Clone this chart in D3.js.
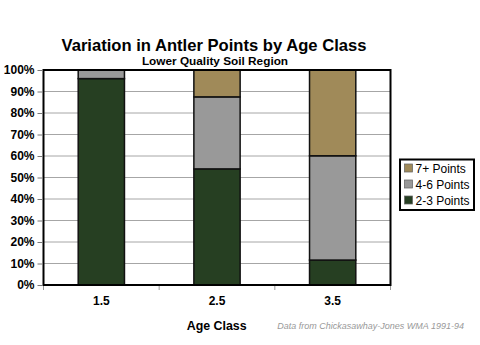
<!DOCTYPE html>
<html>
<head>
<meta charset="utf-8">
<script src="https://cdn.jsdelivr.net/npm/d3@7"></script>
<style>
  html, body { margin: 0; padding: 0; background: #fff; }
  svg { display: block; font-family: "Liberation Sans", Arial, sans-serif; }
</style>
</head>
<body>
<svg id="chart" width="480" height="345"></svg>
<script>
// Age classes and the share of bucks in each antler-point group (percent)
const ageClasses = ["1.5", "2.5", "3.5"];
const seriesNames = ["2-3 Points", "4-6 Points", "7+ Points"];
const points23 = [96, 54, 11.6];
const points46 = [4, 33.5, 48.5];
const points7plus = [0, 12.5, 39.9];
const yTicks = [0, 10, 20, 30, 40, 50, 60, 70, 80, 90, 100];
const colors = ["#263f22", "#999999", "#a08a59"];

const svg = d3.select("#chart");
const m = { left: 43.5, right: 390.5, top: 70, bottom: 285 };

const rows = ageClasses.map((a, i) => ({
  age: a,
  "2-3 Points": points23[i],
  "4-6 Points": points46[i],
  "7+ Points": points7plus[i]
}));
const stacked = d3.stack().keys(seriesNames)(rows);

const x = d3.scaleBand().domain(ageClasses).range([m.left, m.right]).paddingInner(0.6).paddingOuter(0.3);
const y = d3.scaleLinear().domain([0, 100]).range([m.bottom, m.top]);

// Horizontal gridlines
svg.append("g").selectAll("line").data(yTicks).join("line")
  .attr("x1", m.left).attr("x2", m.right)
  .attr("y1", d => y(d)).attr("y2", d => y(d))
  .attr("stroke", "#a6a6a6").attr("stroke-width", 1);

// Stacked bars
svg.append("g").selectAll("g").data(stacked).join("g")
  .attr("fill", (d, i) => colors[i])
  .selectAll("rect").data(d => d.filter(s => s[1] - s[0] > 0)).join("rect")
  .attr("x", d => x(d.data.age))
  .attr("width", x.bandwidth())
  .attr("y", d => y(d[1]))
  .attr("height", d => y(d[0]) - y(d[1]))
  .attr("stroke", "#111").attr("stroke-width", 1.5);

// Plot frame
svg.append("rect")
  .attr("x", m.left).attr("y", m.top)
  .attr("width", m.right - m.left).attr("height", m.bottom - m.top)
  .attr("fill", "none").attr("stroke", "#000").attr("stroke-width", 2);

// Y axis
const yAxis = d3.axisLeft(y).tickValues(yTicks).tickFormat(d => d + "%").tickSize(5).tickPadding(3);
const gy = svg.append("g").attr("transform", `translate(${m.left - 1},0)`).call(yAxis);
gy.select(".domain").remove();
gy.selectAll(".tick line").attr("stroke", "#777");
gy.selectAll("text").attr("font-size", 12).attr("font-weight", "bold")
  .attr("font-family", "'Liberation Sans', Arial, sans-serif").attr("fill", "#000");

// X axis: labels at band centres, ticks at band boundaries
const gx = svg.append("g").attr("transform", `translate(0,${m.bottom + 1})`);
const bounds = [m.left].concat(ageClasses.map(a => x(a) + x.bandwidth() + x.step() * 0.3));
gx.selectAll("line").data(bounds).join("line")
  .attr("x1", d => d).attr("x2", d => d).attr("y1", 0).attr("y2", 4)
  .attr("stroke", "#999");
gx.selectAll("text").data(ageClasses).join("text")
  .attr("x", d => x(d) + x.bandwidth() / 2).attr("y", 19)
  .attr("text-anchor", "middle").attr("font-size", 12).attr("font-weight", "bold")
  .text(d => d);

// Titles
svg.append("text").attr("x", 214).attr("y", 50.5).attr("text-anchor", "middle")
  .attr("font-size", 17).attr("font-weight", "bold")
  .attr("textLength", 305).attr("lengthAdjust", "spacingAndGlyphs")
  .text("Variation in Antler Points by Age Class");
svg.append("text").attr("x", 215).attr("y", 64.5).attr("text-anchor", "middle")
  .attr("font-size", 11.8).attr("font-weight", "bold")
  .text("Lower Quality Soil Region");
svg.append("text").attr("x", 216.7).attr("y", 329.5).attr("text-anchor", "middle")
  .attr("font-size", 12.4).attr("font-weight", "bold")
  .text("Age Class");
svg.append("text").attr("x", 464).attr("y", 328.5).attr("text-anchor", "end")
  .attr("font-size", 9).attr("font-style", "italic").attr("fill", "#999")
  .text("Data from Chickasawhay-Jones WMA 1991-94");

// Legend (top entry is the top of the stack)
const legend = svg.append("g");
legend.append("rect").attr("x", 400).attr("y", 159.5).attr("width", 74).attr("height", 50.5)
  .attr("fill", "#fff").attr("stroke", "#000").attr("stroke-width", 2);
const legendItems = seriesNames.map((n, i) => ({ name: n, color: colors[i] })).reverse();
const li = legend.selectAll("g.item").data(legendItems).join("g").attr("class", "item")
  .attr("transform", (d, i) => `translate(404.5,${164 + i * 16})`);
li.append("rect").attr("width", 8).attr("height", 8)
  .attr("fill", d => d.color).attr("stroke", "#666").attr("stroke-width", 0.75);
li.append("text").attr("x", 11).attr("y", 8.5).attr("font-size", 12)
  .text(d => d.name);
</script>
</body>
</html>
